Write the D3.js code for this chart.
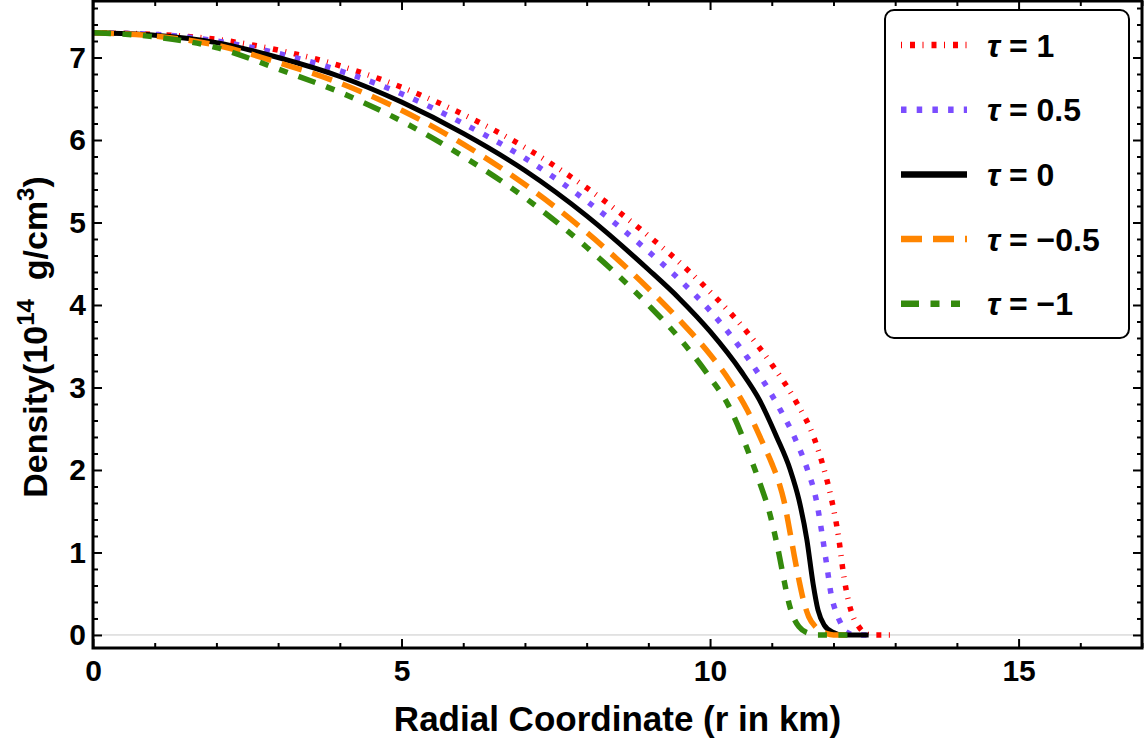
<!DOCTYPE html>
<html>
<head>
<meta charset="utf-8">
<script src="https://cdn.jsdelivr.net/npm/d3@7"></script>
<style>
  body { margin: 0; background: #fff; }
  text { font-family: "Liberation Sans", Arial, sans-serif; font-weight: bold; fill: #000; }
</style>
</head>
<body>
<svg id="chart" width="1146" height="751"></svg>
<script>
// Density profiles (r in km, density in 10^14 g/cm^3)
const tauLabels = ['1', '0.5', '0', '\u22120.5', '\u22121'];

const rTau1   = [0, 1, 2, 3, 4, 5, 6, 7, 8, 9, 9.5, 10, 10.5, 11, 11.4, 11.68, 11.85, 11.97, 12.08, 12.17, 12.25, 12.33, 12.41, 12.52, 12.65, 12.93];
const rhoTau1 = [7.30, 7.28, 7.22, 7.09, 6.90, 6.64, 6.31, 5.91, 5.42, 4.84, 4.52, 4.16, 3.76, 3.28, 2.82, 2.40, 2.00, 1.64, 1.20, 0.70, 0.39, 0.20, 0.10, 0.02, 0, 0];

const rTauHalf   = [0, 1, 2, 3, 4, 5, 6, 7, 8, 9, 9.5, 10, 10.5, 10.8, 11.1, 11.39, 11.58, 11.72, 11.82, 11.9, 11.96, 12.04, 12.12, 12.2, 12.35, 12.7];
const rhoTauHalf = [7.30, 7.28, 7.20, 7.05, 6.84, 6.56, 6.20, 5.78, 5.26, 4.65, 4.31, 3.93, 3.47, 3.15, 2.78, 2.36, 2.00, 1.64, 1.20, 0.80, 0.50, 0.28, 0.14, 0.04, 0, 0];

const rTau0   = [0, 1, 2, 3, 4, 5, 6, 7, 8, 9, 9.5, 10, 10.5, 10.8, 11.08, 11.3, 11.44, 11.57, 11.67, 11.75, 11.85, 12.0, 12.15, 12.57];
const rhoTau0 = [7.30, 7.27, 7.18, 7.00, 6.77, 6.46, 6.08, 5.63, 5.08, 4.43, 4.08, 3.68, 3.20, 2.85, 2.40, 2.00, 1.64, 1.15, 0.62, 0.30, 0.12, 0.03, 0, 0];

const rTauMinusHalf   = [0, 1, 2, 3, 4, 5, 6, 7, 8, 9, 9.5, 10, 10.3, 10.6, 10.87, 11.0, 11.12, 11.2, 11.28, 11.36, 11.44, 11.52, 11.6, 11.72, 11.88, 12.0, 12.3];
const rhoTauMinusHalf = [7.30, 7.26, 7.15, 6.94, 6.69, 6.36, 5.95, 5.46, 4.88, 4.20, 3.82, 3.40, 3.10, 2.73, 2.30, 2.08, 1.84, 1.62, 1.31, 0.98, 0.67, 0.40, 0.22, 0.09, 0.02, 0, 0];

const rTauMinus1   = [0, 1, 2, 3, 4, 5, 6, 7, 8, 9, 9.5, 10, 10.3, 10.5, 10.68, 10.85, 10.95, 11.04, 11.12, 11.2, 11.28, 11.36, 11.44, 11.6, 11.75, 12.3];
const rhoTauMinus1 = [7.30, 7.25, 7.12, 6.86, 6.58, 6.23, 5.80, 5.30, 4.70, 4.00, 3.60, 3.12, 2.78, 2.45, 2.10, 1.75, 1.52, 1.25, 0.97, 0.66, 0.38, 0.20, 0.10, 0.02, 0, 0];

const xTicks = [0, 5, 10, 15];
const xMinorTicks = [1, 2, 3, 4, 6, 7, 8, 9, 11, 12, 13, 14, 16, 17];
const yTicks = [0, 1, 2, 3, 4, 5, 6, 7];
const yMinorTicks = d3.range(0, 39).map(k => +(k * 0.2).toFixed(1)).filter(v => Math.abs(v - Math.round(v)) > 1e-6);

// line styles, in drawing order
const styles = [
  { color: '#ff0000', dash: '1,8,5,7.5', width: 5.5 },
  { color: '#7b4dff', dash: '5.5,10.2', width: 5.5 },
  { color: '#000000', dash: null, width: 5 },
  { color: '#ff8500', dash: '21,11', width: 5.5 },
  { color: '#348a0c', dash: '18,11.5,9,11.5,9,11.5', width: 5.5 }
];

const series = [
  [rTau1, rhoTau1],
  [rTauHalf, rhoTauHalf],
  [rTau0, rhoTau0],
  [rTauMinusHalf, rhoTauMinusHalf],
  [rTauMinus1, rhoTauMinus1]
].map(([r, rho], i) => ({ label: tauLabels[i], points: r.map((v, j) => [v, rho[j]]) }));

// scales
const plot = { left: 93, right: 1142, top: 1, bottom: 648 };
const x = d3.scaleLinear().domain([0, 17]).range([plot.left, plot.right]);
const y = d3.scaleLinear().domain([-0.158, 7.685]).range([plot.bottom, plot.top]);

const svg = d3.select('#chart');

svg.append('defs').append('clipPath').attr('id', 'clip')
  .append('rect')
  .attr('x', plot.left).attr('y', plot.top)
  .attr('width', plot.right - plot.left).attr('height', plot.bottom - plot.top);

// zero line
svg.append('line')
  .attr('x1', plot.left).attr('x2', plot.right)
  .attr('y1', y(0)).attr('y2', y(0))
  .attr('stroke', '#c8c8c8').attr('stroke-width', 1);

// curves
const line = d3.line()
  .x(d => x(d[0]))
  .y(d => y(d[1]))
  .curve(d3.curveMonotoneX);

const curves = svg.append('g').attr('clip-path', 'url(#clip)');
series.forEach((s, i) => {
  curves.append('path')
    .datum(s.points)
    .attr('d', line)
    .attr('fill', 'none')
    .attr('stroke', styles[i].color)
    .attr('stroke-width', styles[i].width)
    .attr('stroke-dasharray', styles[i].dash)
    .attr('stroke-linejoin', 'round');
});

// axes (ticks inward, on all four sides)
function styleAxis(g) {
  g.select('.domain').remove();
  g.selectAll('.tick line').attr('stroke', '#000').attr('stroke-width', 2);
  g.selectAll('.tick text').style('font-size', '30px');
}

svg.append('g')
  .attr('transform', `translate(0,${plot.bottom})`)
  .call(d3.axisBottom(x).tickValues(xTicks).tickFormat(d3.format('d')).tickSizeInner(-9).tickSizeOuter(0).tickPadding(12))
  .call(styleAxis);
svg.append('g')
  .attr('transform', `translate(0,${plot.bottom})`)
  .call(d3.axisBottom(x).tickValues(xMinorTicks).tickFormat('').tickSizeInner(-5).tickSizeOuter(0))
  .call(styleAxis);
svg.append('g')
  .attr('transform', `translate(0,${plot.top})`)
  .call(d3.axisTop(x).tickValues(xTicks).tickFormat('').tickSizeInner(-9).tickSizeOuter(0))
  .call(styleAxis);
svg.append('g')
  .attr('transform', `translate(0,${plot.top})`)
  .call(d3.axisTop(x).tickValues(xMinorTicks).tickFormat('').tickSizeInner(-5).tickSizeOuter(0))
  .call(styleAxis);

svg.append('g')
  .attr('transform', `translate(${plot.left},0)`)
  .call(d3.axisLeft(y).tickValues(yTicks).tickFormat(d3.format('d')).tickSizeInner(-9).tickSizeOuter(0).tickPadding(7))
  .call(styleAxis);
svg.append('g')
  .attr('transform', `translate(${plot.left},0)`)
  .call(d3.axisLeft(y).tickValues(yMinorTicks).tickFormat('').tickSizeInner(-5).tickSizeOuter(0))
  .call(styleAxis);
svg.append('g')
  .attr('transform', `translate(${plot.right},0)`)
  .call(d3.axisRight(y).tickValues(yTicks).tickFormat('').tickSizeInner(-9).tickSizeOuter(0))
  .call(styleAxis);
svg.append('g')
  .attr('transform', `translate(${plot.right},0)`)
  .call(d3.axisRight(y).tickValues(yMinorTicks).tickFormat('').tickSizeInner(-5).tickSizeOuter(0))
  .call(styleAxis);

// frame
svg.append('rect')
  .attr('x', plot.left).attr('y', plot.top)
  .attr('width', plot.right - plot.left).attr('height', plot.bottom - plot.top)
  .attr('fill', 'none').attr('stroke', '#000').attr('stroke-width', 3);

// axis titles
svg.append('text')
  .attr('x', (plot.left + plot.right) / 2)
  .attr('y', 731)
  .attr('text-anchor', 'middle')
  .style('font-size', '35px')
  .text('Radial Coordinate (r in km)');

const yTitle = svg.append('text')
  .attr('transform', 'translate(47,337) rotate(-90)')
  .attr('text-anchor', 'middle')
  .style('font-size', '34px');
yTitle.append('tspan').text('Density(10');
yTitle.append('tspan').attr('dy', -13).style('font-size', '24px').text('14');
yTitle.append('tspan').attr('dy', 13).text('\u00a0 g/cm');
yTitle.append('tspan').attr('dy', -13).style('font-size', '24px').text('3');
yTitle.append('tspan').attr('dy', 13).text(')');

// legend
const legend = svg.append('g');
legend.append('rect')
  .attr('x', 885).attr('y', 10)
  .attr('width', 244).attr('height', 328)
  .attr('rx', 9)
  .attr('fill', '#fff').attr('stroke', '#000').attr('stroke-width', 2);

series.forEach((s, i) => {
  const row = legend.append('g').attr('transform', `translate(0,${45 + i * 64.7})`);
  row.append('line')
    .attr('x1', 901).attr('x2', 967)
    .attr('stroke', styles[i].color)
    .attr('stroke-width', 6.5)
    .attr('stroke-dasharray', styles[i].dash);
  const t = row.append('text')
    .attr('x', 987).attr('dy', '0.36em')
    .style('font-size', '32px');
  t.append('tspan').style('font-style', 'italic').text('\u03c4');
  t.append('tspan').text(' = ' + s.label);
});
</script>
</body>
</html>
